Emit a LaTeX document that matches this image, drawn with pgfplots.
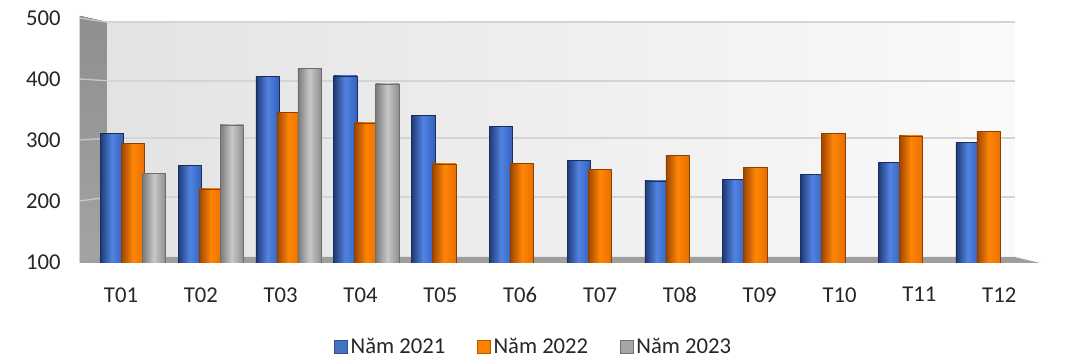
\documentclass[border=0pt]{standalone}
\usepackage{pgfplots}
\pgfplotsset{compat=1.18}
\usepackage{pgfplotstable}
\usepackage{fontspec}
\setmainfont{Carlito}
\definecolor{txt}{HTML}{262626}
\definecolor{c21}{HTML}{4472C4}
\definecolor{c22}{HTML}{FF7F00}
\definecolor{c23}{HTML}{A5A5A5}
\definecolor{c21l}{HTML}{1F3A75}
\definecolor{c21m}{HTML}{5283E2}
\definecolor{c21r}{HTML}{3560BC}
\definecolor{c22l}{HTML}{9C4600}
\definecolor{c22m}{HTML}{FF8505}
\definecolor{c22r}{HTML}{E87000}
\definecolor{c23l}{HTML}{7A7A7A}
\definecolor{c23m}{HTML}{C8C8C8}
\definecolor{c23r}{HTML}{8E8E8E}

\pgfplotstableread{
x  a    b
0  311  295
1  258  220
2  404  345
3  405  328
4  340  261
5  322  262
6  267  252
7  233  275
8  236  255
9  244  311
10 263  307
11 296  314
}\tabAB
\pgfplotstableread{
x  c
0  245
1  325
2  418
3  392
}\tabC

\begin{document}
\begin{tikzpicture}
\begin{axis}[
  at={(60pt,75.75pt)}, anchor=south west,
  scale only axis, width=720pt, height=185.25pt,
  xmin=-0.681, xmax=11.66, ymin=98.36, ymax=503.3,
  axis line style={draw=none}, tick style={draw=none},
  ytick={100,200,300,400,500},
  xtick={-0.154,0.872,1.898,2.925,3.951,4.977,6.004,7.030,8.057,9.083,10.109,11.136},
  xticklabels={T01,T02,T03,T04,T05,T06,T07,T08,T09,T10,T11,T12},
  /pgf/number format/assume math mode=true,
  ticklabel style={font=\fontsize{17pt}{20pt}\selectfont, text=txt},
  yticklabel style={xshift=-11pt},
  xticklabel style={yshift=-10.5pt},
  ybar, bar width=0.30,
  legend columns=3,
  legend image code/.code={\filldraw[#1] (-3pt,-4.5pt) rectangle (6.75pt,5.25pt);},
  legend style={draw=none, fill=none, at={(0.473,-0.34)}, anchor=center,
    font=\fontsize{17pt}{20pt}\selectfont, text=txt,
    /tikz/every even column/.append style={column sep=22pt}},
]
% back wall
\fill[left color=black!11, right color=black!2] (axis cs:-0.334,108.2) rectangle (axis cs:11.337,493.4);
\draw[black!17, line width=1.2pt] (axis cs:-0.334,206.1) -- (axis cs:11.337,206.1);
\draw[black!17, line width=1.2pt] (axis cs:-0.334,302.8) -- (axis cs:11.337,302.8);
\draw[black!17, line width=1.2pt] (axis cs:-0.334,397.2) -- (axis cs:11.337,397.2);
\draw[black!17, line width=1.2pt] (axis cs:-0.334,493.0) -- (axis cs:11.337,493.0);
% side wall
\fill[top color=black!44, bottom color=black!36] (axis cs:-0.681,98.36) -- (axis cs:-0.681,503.3) -- (axis cs:-0.334,493.4) -- (axis cs:-0.334,108.2) -- cycle;
\draw[black!22, line width=1pt] (axis cs:-0.681,200) -- (axis cs:-0.334,206.1);
\draw[black!22, line width=1pt] (axis cs:-0.681,300) -- (axis cs:-0.334,302.8);
\draw[black!22, line width=1pt] (axis cs:-0.681,400) -- (axis cs:-0.334,397.2);
\draw[black!22, line width=1pt] (axis cs:-0.681,500) -- (axis cs:-0.334,493.0);
% floor
\fill[black!38] (axis cs:-0.681,98.36) -- (axis cs:-0.334,108.2) -- (axis cs:11.337,108.2) -- (axis cs:11.66,98.36) -- cycle;

\pgfplotsinvokeforeach{0,...,11}{
\addplot[forget plot, draw=c21l!80!black, line width=0.3pt, left color=c21l, right color=c21r, middle color=c21m, bar shift=-0.27, restrict x to domain=#1:#1]
  table[x=x, y=a] {\tabAB};
\addplot[forget plot, draw=c22l!90!black, line width=0.3pt, left color=c22l, right color=c22r, middle color=c22m, bar shift=0, restrict x to domain=#1:#1]
  table[x=x, y=b] {\tabAB};
}
\pgfplotsinvokeforeach{0,...,3}{
\addplot[forget plot, draw=c23l!90!black, line width=0.3pt, left color=c23l, right color=c23r, middle color=c23m, bar shift=0.27, restrict x to domain=#1:#1]
  table[x=x, y=c] {\tabC};
}

\addlegendimage{fill=c21, draw=c21!70!black}
\addlegendentry{Năm 2021}
\addlegendimage{fill=c22, draw=c22!70!black}
\addlegendentry{Năm 2022}
\addlegendimage{fill=c23, draw=c23!70!black}
\addlegendentry{Năm 2023}
\end{axis}
\pgfresetboundingbox
\path[use as bounding box] (0,0) rectangle (814.5pt,273pt);
\end{tikzpicture}
\end{document}
